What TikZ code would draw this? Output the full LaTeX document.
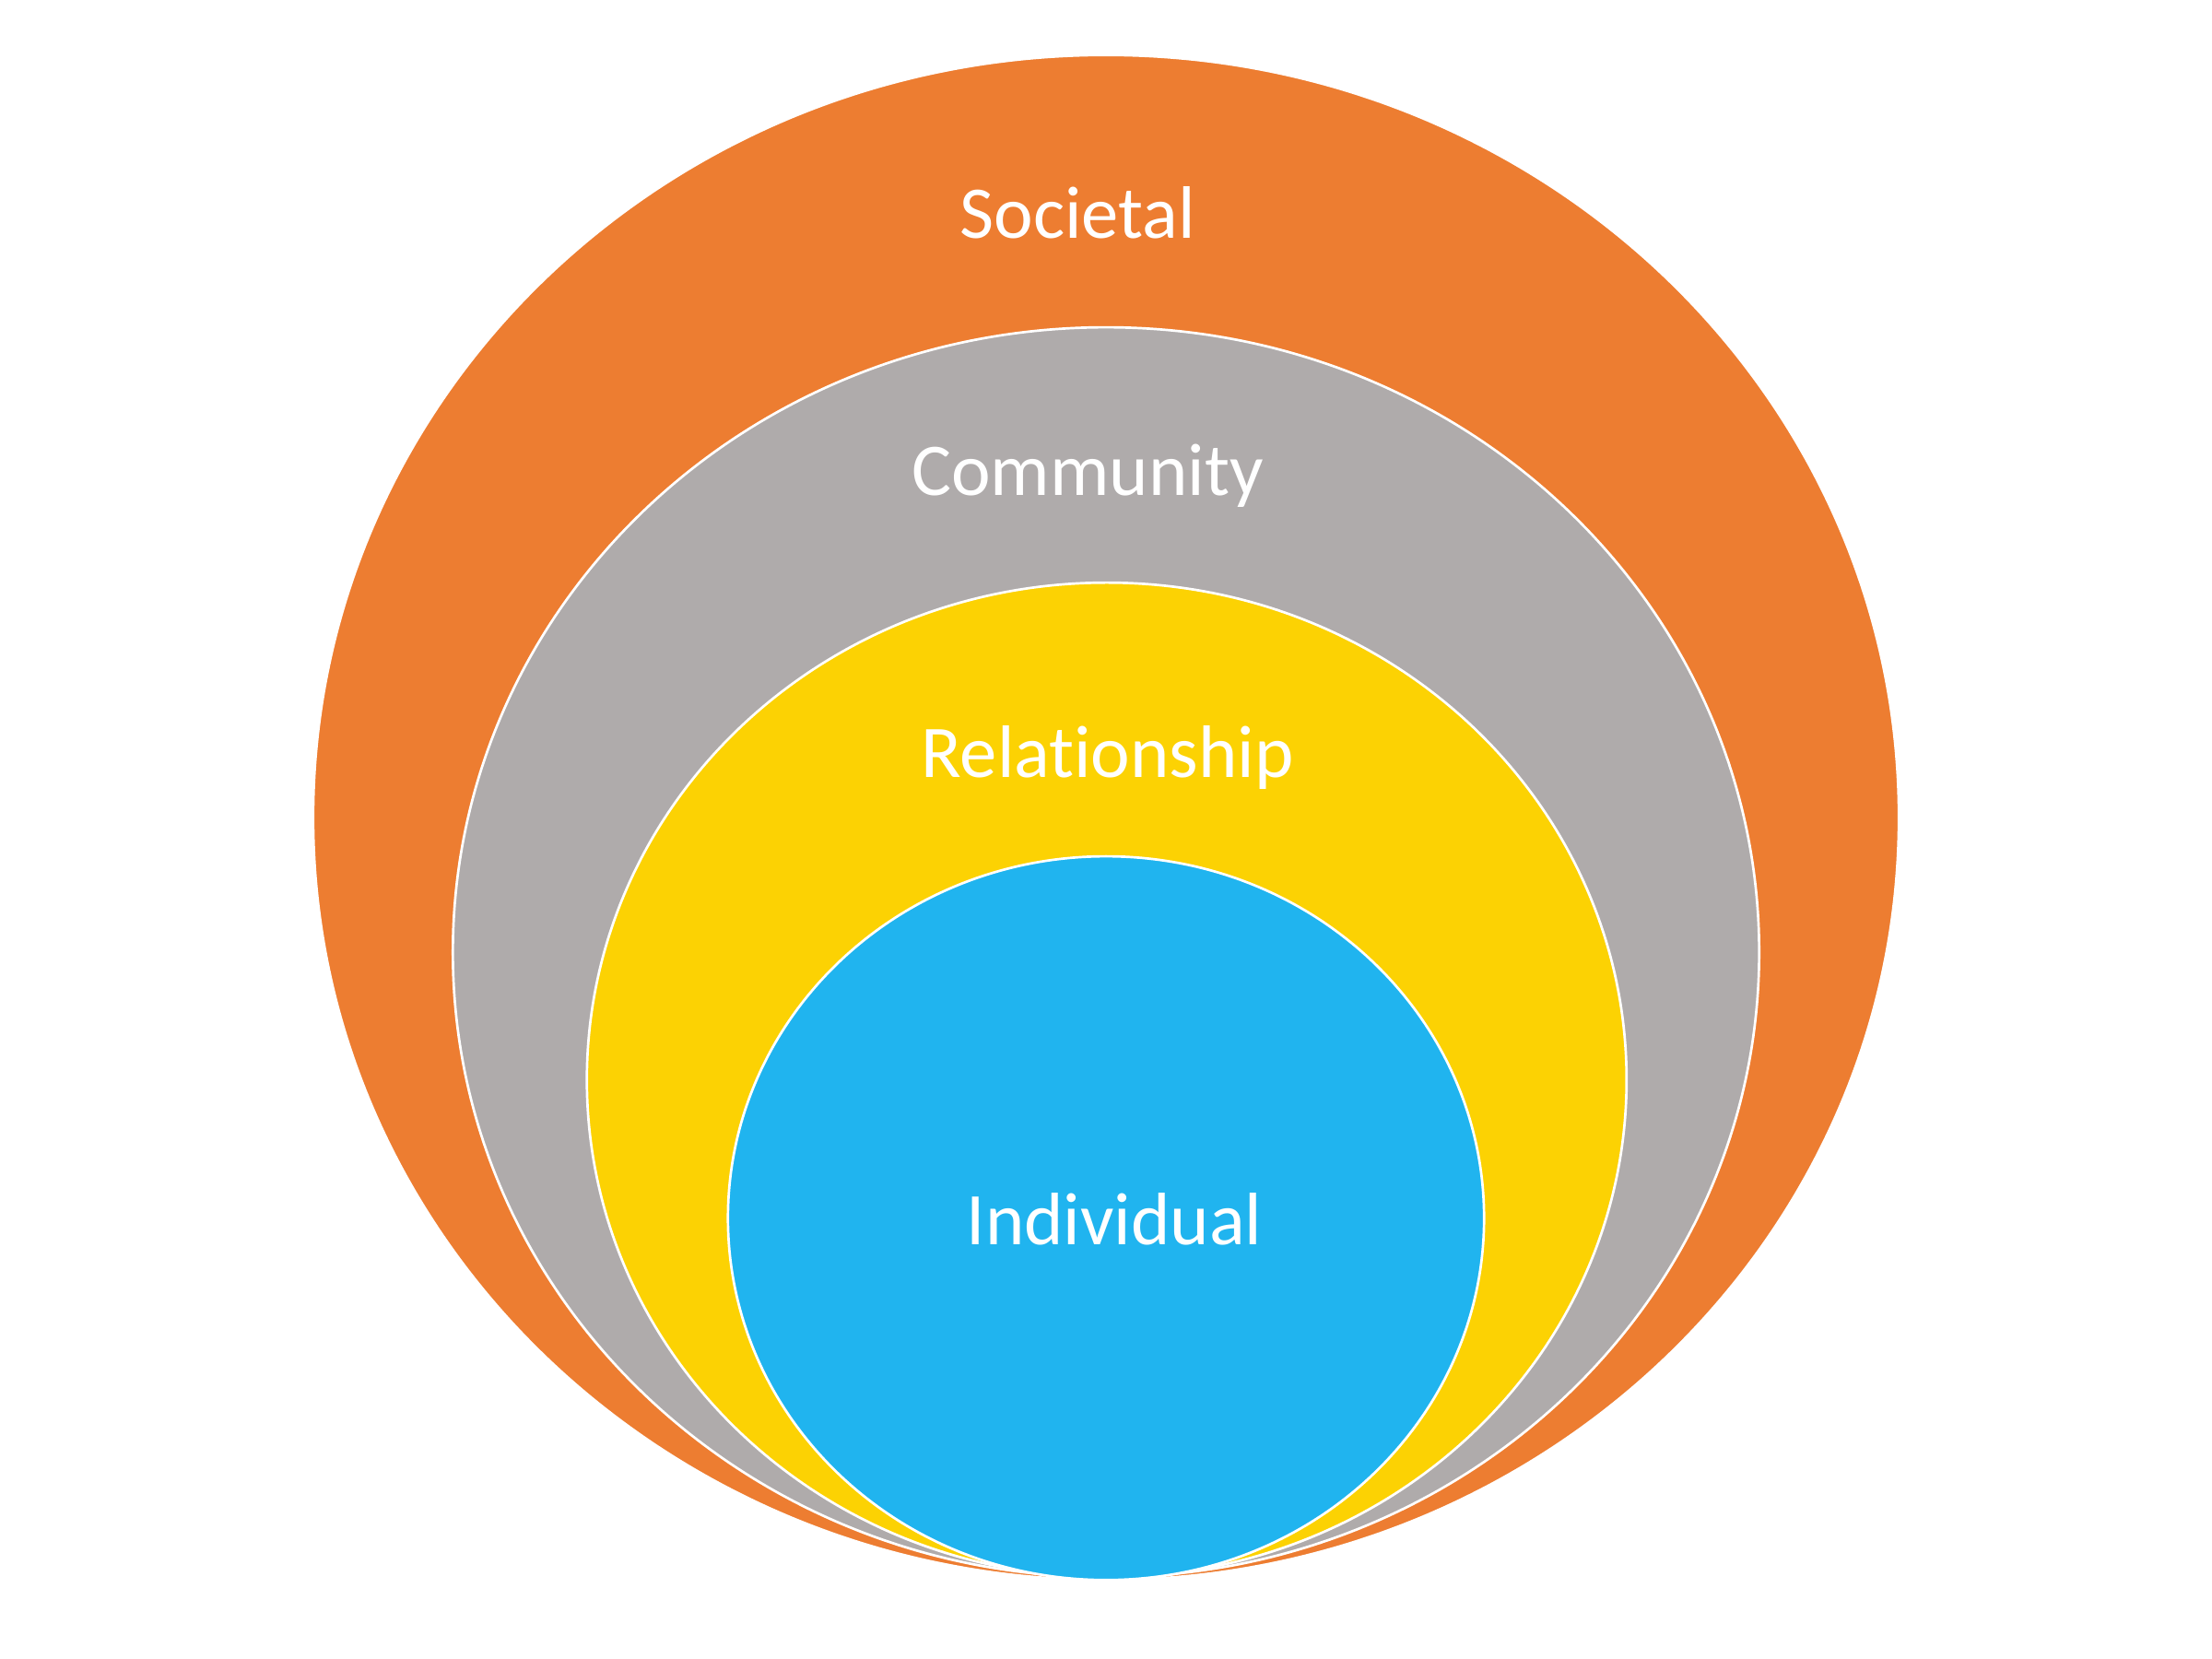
\documentclass[tikz,border=0pt]{standalone}
\usepackage{fontspec}
\setmainfont{Carlito}[Ligatures={NoCommon}]
\definecolor{cOrange}{HTML}{ED7D31}
\definecolor{cGray}{HTML}{AFABAB}
\definecolor{cYellow}{HTML}{FCD203}
\definecolor{cBlue}{HTML}{20B4EF}
\begin{document}
\begin{tikzpicture}[x=0.02cm,y=-0.02cm,
  ring/.style={draw=white,line width=1pt},
  lbl/.style={text=white,font=\fontsize{30}{36}\selectfont,inner sep=0pt,anchor=base}]
\useasboundingbox (0,0) rectangle (1568,1176);
\fill[white] (0,0) rectangle (1568,1176);
\filldraw[ring,fill=cOrange] (784,579.5) ellipse [x radius=562, y radius=540.5];
\filldraw[ring,fill=cGray] (784,675) ellipse [x radius=463, y radius=443];
\filldraw[ring,fill=cYellow] (784.5,765.5) ellipse [x radius=368.5, y radius=352.5];
\filldraw[ring,fill=cBlue] (784,863.5) ellipse [x radius=268, y radius=256.5];
\node[lbl] (soc) at (764,169) {Societal};
\node[lbl] (com) at (771,351) {Community};
\node[lbl] (rel) at (785,551) {Relationship};
\node[lbl] (ind) at (790,882) {Individual};
\end{tikzpicture}
\end{document}
